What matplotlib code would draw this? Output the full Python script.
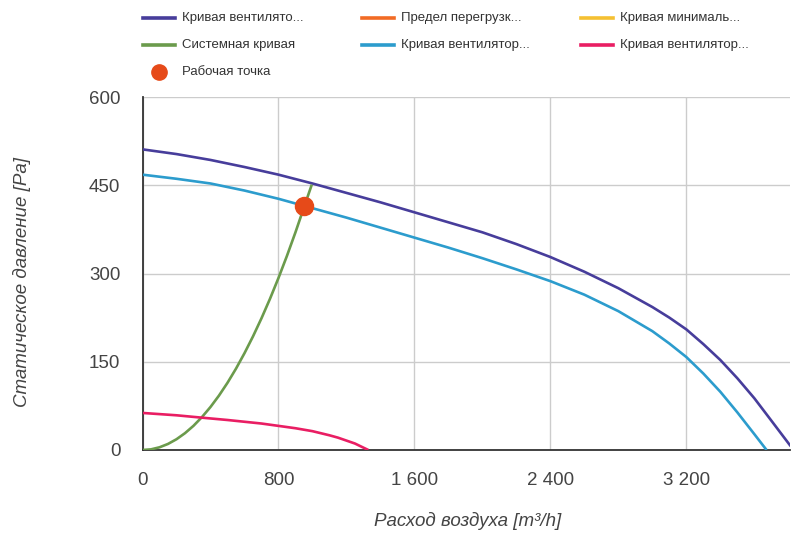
import matplotlib
matplotlib.use('Agg')
import matplotlib.pyplot as plt
from matplotlib.lines import Line2D

plt.rcParams['font.family'] = ['Liberation Sans', 'DejaVu Sans']

# fan curve (max speed)
fan_x = [0, 200, 400, 600, 800, 1000, 1200, 1400, 1600, 1800, 2000, 2200, 2400, 2600,
         2800, 3000, 3100, 3200, 3300, 3400, 3500, 3600, 3700, 3810, 3835]
fan_y = [511, 503, 493, 481, 468, 453, 437, 421, 404, 387, 370, 350, 328, 303,
         275, 243, 225, 205, 180, 153, 122, 88, 50, 8, 0]
# fan curve (working)
work_x = [0, 200, 400, 600, 800, 1000, 1200, 1400, 1600, 1800, 2000, 2200, 2400, 2600,
          2800, 3000, 3100, 3200, 3300, 3400, 3500, 3600, 3672]
work_y = [468, 461, 453, 441, 427, 411, 395, 378, 361, 344, 326, 307, 287, 264,
          236, 202, 181, 158, 130, 99, 64, 27, 0]
# fan curve (min)
low_x = [0, 100, 200, 348, 500, 600, 700, 800, 900, 1000, 1100, 1150, 1200, 1250, 1300, 1329]
low_y = [63, 61, 59, 55, 51, 48, 45, 41, 37, 32, 25, 21, 16, 11, 4, 0]
# system curve
sys_x = [0, 50, 100, 150, 200, 250, 300, 350, 400, 450, 500, 550, 600, 650, 700,
         750, 800, 850, 900, 950, 996]
sys_y = [0, 1.1, 4.6, 10.3, 18.3, 28.6, 41.1, 56.0, 73.1, 92.5, 114.2, 138.2, 164.5,
         193.0, 223.8, 256.9, 292.3, 330.0, 370.0, 412.3, 451]
# overload limit / min curve (only at origin)
over_x, over_y = [], []
minc_x, minc_y = [0, 0], [0, 0]
# operating point
op_x, op_y = [952], [414]

xticks = [0, 800, 1600, 2400, 3200]
xtick_labels = ['0', '800', '1 600', '2 400', '3 200']
yticks = [0, 150, 300, 450, 600]

labels = ['Кривая вентилято...', 'Предел перегрузк...', 'Кривая минималь...',
          'Системная кривая', 'Кривая вентилятор...', 'Кривая вентилятор...',
          'Рабочая точка']
colors = ['#473d9b', '#f26b24', '#f5c032', '#6b9b4c', '#2c9ccd', '#e91e63', '#e64a19']

W, H = 791, 535
fig = plt.figure(figsize=(W / 100, H / 100), dpi=100)
ax = fig.add_axes([142.5 / W, (H - 450) / H, (790 - 142.5) / W, (450 - 97) / H])

lw = 1.9
kw = dict(lw=lw, zorder=3, solid_joinstyle='round', solid_capstyle='butt')
ax.plot(fan_x, fan_y, color=colors[0], **kw)
ax.plot(over_x, over_y, color=colors[1], **kw)
ax.plot(minc_x, minc_y, color=colors[2], **kw)
ax.plot(sys_x, sys_y, color=colors[3], **kw)
ax.plot(work_x, work_y, color=colors[4], **kw)
ax.plot(low_x, low_y, color=colors[5], **kw)
ax.plot(op_x, op_y, 'o', color=colors[6], ms=13, zorder=4)

ax.set_xlim(0, 3810)
ax.set_ylim(0, 600)
ax.set_xticks(xticks)
ax.set_xticklabels(xtick_labels)
ax.set_yticks(yticks)
ax.tick_params(length=0, labelsize=13.5, labelcolor='#444444')
ax.tick_params(axis='x', pad=16)
ax.tick_params(axis='y', pad=16)
ax.grid(True, color='#cccccc', lw=1)
ax.set_axisbelow(True)
for s in ['top', 'right']:
    ax.spines[s].set_visible(False)
for s in ['left', 'bottom']:
    ax.spines[s].set_color('#333333')
    ax.spines[s].set_linewidth(1.3)

fig.text(22 / W, 1 - 282 / H, 'Статическое давление [Pa]', rotation=90,
         ha='center', va='center', style='italic', fontsize=13.5, color='#444444')
fig.text(468 / W, 1 - 521 / H, 'Расход воздуха [m³/h]',
         ha='center', va='center', style='italic', fontsize=13.5, color='#444444')

# legend, three columns in rows
col_x = [143, 362, 581]
row_y = [18, 45, 72]
for i, (lab, c) in enumerate(zip(labels, colors)):
    r, k = divmod(i, 3)
    x0, y0 = col_x[k], row_y[r]
    if i == 6:
        fig.add_artist(Line2D([(x0 + 16) / W], [1 - y0 / H], marker='o', ms=11,
                              color=c, transform=fig.transFigure))
    else:
        fig.add_artist(Line2D([x0 / W, (x0 + 32) / W], [1 - y0 / H, 1 - y0 / H],
                              color=c, lw=2.6, transform=fig.transFigure))
    fig.text((x0 + 39) / W, 1 - y0 / H, lab, ha='left', va='center',
             fontsize=9.5, color='#333333')

fig.savefig('out.png', dpi=100)
